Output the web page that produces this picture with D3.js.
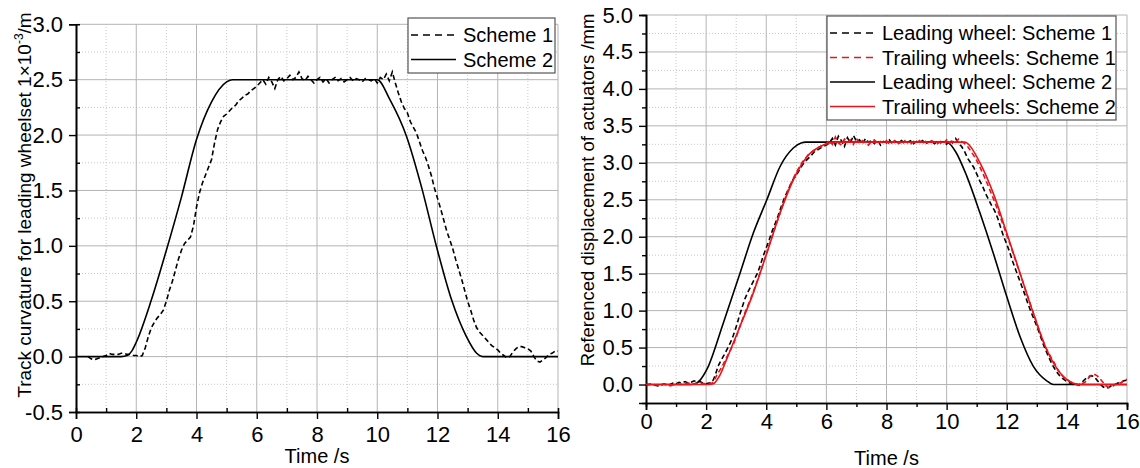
<!DOCTYPE html>
<html>
<head>
<meta charset="utf-8">
<script src="https://cdn.jsdelivr.net/npm/d3@7"></script>
<style>
  body { margin: 0; background: #fff; }
  text { font-family: "Liberation Sans", Arial, sans-serif; fill: #000; }
</style>
</head>
<body>
<svg id="chart" width="1140" height="468"></svg>
<script>
// ---- data ([time s, value]) ----
const xTicks = [0, 2, 4, 6, 8, 10, 12, 14, 16];
const xMinor = [1, 3, 5, 7, 9, 11, 13, 15];
const leftYTicks = [-0.5, 0, 0.5, 1.0, 1.5, 2.0, 2.5, 3.0];
const leftYMinor = [-0.25, 0.25, 0.75, 1.25, 1.75, 2.25, 2.75];
const rightYTicks = [0, 0.5, 1.0, 1.5, 2.0, 2.5, 3.0, 3.5, 4.0, 4.5, 5.0];
const rightYMinor = [0.25, 0.75, 1.25, 1.75, 2.25, 2.75, 3.25, 3.75, 4.25, 4.75];

// left: track curvature, scheme 2 (smooth)
const curvScheme2 = [[0,0],[1.5,0],[1.7,0.01],[1.85,0.05],[2.0,0.13],[2.5,0.51],[3.0,0.96],[3.5,1.44],[4.0,1.96],
  [4.5,2.30],[5.0,2.48],[5.2,2.5],[10.0,2.5],[10.42,2.32],[10.97,1.99],[11.47,1.53],[11.97,0.99],[12.47,0.51],
  [12.96,0.18],[13.3,0.03],[13.5,0],[16,0]];

// left: track curvature, scheme 1 (measured, noisy)
const curvScheme1 = [[0.4,0],[0.5,-0.02],[0.6,-0.03],[0.7,-0.02],[0.8,-0.01],[0.9,0],[1.0,0.01],[1.1,0.03],[1.2,0.02],
  [1.3,0.02],[1.4,0.02],[1.5,0.03],[1.6,0.03],[1.7,0.02],[1.8,0.02],[1.9,0.01],[2.0,0.01],[2.1,0],[2.2,0.01],
  [2.3,0.08],[2.4,0.18],[2.5,0.26],[2.6,0.31],[2.7,0.35],[2.8,0.38],[2.9,0.42],[3.0,0.5],[3.1,0.6],[3.2,0.68],
  [3.3,0.78],[3.4,0.88],[3.5,0.96],[3.6,1.02],[3.7,1.05],[3.8,1.08],[3.9,1.18],[4.0,1.35],[4.1,1.48],[4.2,1.57],
  [4.3,1.64],[4.4,1.71],[4.5,1.78],[4.6,1.93],[4.7,2.05],[4.8,2.12],[4.9,2.17],[5.0,2.19],[5.1,2.22],[5.2,2.25],
  [5.3,2.27],[5.4,2.31],[5.5,2.33],[5.6,2.36],[5.7,2.37],[5.8,2.40],[5.9,2.42],[6.0,2.44],[6.1,2.47],[6.2,2.50],
  [6.3,2.46],[6.4,2.52],[6.5,2.48],[6.6,2.42],[6.7,2.50],[6.8,2.53],[6.9,2.49],[7.0,2.51],[7.1,2.54],[7.2,2.50],
  [7.3,2.52],[7.4,2.57],[7.5,2.51],[7.6,2.49],[7.7,2.53],[7.8,2.50],[7.9,2.47],[8.0,2.50],[8.1,2.52],[8.2,2.48],
  [8.3,2.51],[8.4,2.47],[8.5,2.50],[8.6,2.52],[8.7,2.49],[8.8,2.51],[8.9,2.48],[9.0,2.50],[9.1,2.52],[9.2,2.49],
  [9.3,2.51],[9.4,2.50],[9.5,2.48],[9.6,2.51],[9.7,2.50],[9.8,2.49],[9.9,2.51],[10.0,2.47],[10.1,2.52],[10.2,2.50],
  [10.3,2.55],[10.4,2.49],[10.5,2.57],[10.6,2.47],[10.7,2.38],[10.8,2.30],[10.9,2.24],[11.0,2.20],[11.1,2.12],
  [11.2,2.07],[11.3,2.02],[11.4,1.94],[11.5,1.86],[11.6,1.80],[11.7,1.72],[11.8,1.63],[11.9,1.52],[12.0,1.43],
  [12.1,1.34],[12.2,1.24],[12.3,1.14],[12.4,1.06],[12.5,0.98],[12.6,0.88],[12.7,0.79],[12.8,0.70],[12.9,0.60],
  [13.0,0.50],[13.1,0.42],[13.2,0.33],[13.3,0.26],[13.4,0.22],[13.5,0.19],[13.6,0.16],[13.7,0.13],[13.8,0.10],
  [13.9,0.08],[14.0,0.06],[14.1,0.03],[14.2,0.01],[14.3,-0.01],[14.4,0],[14.5,0.04],[14.6,0.07],[14.7,0.09],
  [14.8,0.09],[14.9,0.08],[15.0,0.07],[15.1,0.05],[15.2,0],[15.3,-0.04],[15.4,-0.05],[15.5,-0.03],[15.6,-0.01],
  [15.7,0.02],[15.8,0.03],[15.9,0.05],[16.0,0.05]];

// right: actuator displacement, scheme 2 (smooth)
const leadScheme2 = [[0,0],[1.5,0],[1.63,0.01],[1.8,0.06],[2.02,0.2],[2.57,0.83],[3.13,1.51],[3.57,2.05],[4.02,2.5],
  [4.46,2.95],[4.9,3.2],[5.18,3.27],[5.3,3.28],[10.0,3.28],[10.06,3.27],[10.3,3.15],[10.67,2.82],[11.11,2.32],
  [11.55,1.78],[12.0,1.19],[12.44,0.65],[12.88,0.25],[13.33,0.05],[13.55,0],[16,0]];
const trailScheme2 = [[0,0],[2.1,0],[2.24,0.01],[2.45,0.12],[2.68,0.34],[3.13,0.79],[3.57,1.24],[4.02,1.78],
  [4.46,2.32],[4.9,2.77],[5.35,3.08],[5.9,3.24],[6.3,3.28],[10.6,3.28],[10.67,3.27],[11.11,3.0],[11.55,2.59],
  [12.0,2.05],[12.44,1.51],[12.88,0.97],[13.33,0.47],[13.77,0.16],[14.2,0.02],[14.4,0],[16,0]];

// right: actuator displacement, scheme 1 (measured, noisy)
const leadScheme1 = [[0,0],[0.1,0],[0.2,0.01],[0.3,-0.01],[0.4,-0.02],[0.5,-0.01],[0.6,0.01],[0.7,-0.01],[0.8,0],
  [0.9,0.02],[1.0,0.01],[1.1,0.03],[1.2,0.02],[1.3,0.04],[1.4,0.02],[1.5,0.03],[1.6,0.05],[1.7,0.03],[1.8,0.04],
  [1.9,0.02],[2.0,0.01],[2.1,0.02],[2.2,0.03],[2.3,0.12],[2.4,0.25],[2.5,0.33],[2.6,0.40],[2.7,0.48],[2.8,0.56],
  [2.9,0.66],[3.0,0.78],[3.1,0.92],[3.2,1.05],[3.3,1.17],[3.4,1.26],[3.5,1.34],[3.6,1.42],[3.7,1.50],[3.8,1.61],
  [3.9,1.74],[4.0,1.85],[4.1,1.96],[4.2,2.08],[4.3,2.18],[4.4,2.29],[4.5,2.41],[4.6,2.52],[4.7,2.61],[4.8,2.70],
  [4.9,2.78],[5.0,2.83],[5.1,2.90],[5.2,2.97],[5.3,3.02],[5.4,3.06],[5.5,3.10],[5.6,3.15],[5.7,3.17],[5.8,3.20],
  [5.9,3.22],[6.0,3.24],[6.1,3.27],[6.2,3.33],[6.3,3.24],[6.4,3.36],[6.5,3.30],[6.6,3.22],[6.7,3.34],[6.8,3.27],
  [6.9,3.37],[7.0,3.29],[7.1,3.31],[7.2,3.25],[7.3,3.33],[7.4,3.28],[7.5,3.30],[7.6,3.26],[7.7,3.31],[7.8,3.24],
  [7.9,3.29],[8.0,3.27],[8.1,3.31],[8.2,3.25],[8.3,3.29],[8.4,3.27],[8.5,3.30],[8.6,3.26],[8.7,3.28],[8.8,3.30],
  [8.9,3.26],[9.0,3.29],[9.1,3.27],[9.2,3.30],[9.3,3.26],[9.4,3.28],[9.5,3.29],[9.6,3.26],[9.7,3.30],[9.8,3.27],
  [9.9,3.29],[10.0,3.25],[10.1,3.31],[10.2,3.27],[10.3,3.33],[10.4,3.26],[10.5,3.22],[10.6,3.15],[10.7,3.06],
  [10.8,3.0],[10.9,2.94],[11.0,2.85],[11.1,2.76],[11.2,2.68],[11.3,2.58],[11.4,2.50],[11.5,2.42],[11.6,2.35],
  [11.7,2.25],[11.8,2.12],[11.9,2.00],[12.0,1.90],[12.1,1.79],[12.2,1.66],[12.3,1.55],[12.4,1.44],[12.5,1.33],
  [12.6,1.22],[12.7,1.10],[12.8,0.99],[12.9,0.89],[13.0,0.79],[13.1,0.68],[13.2,0.56],[13.3,0.46],[13.4,0.37],
  [13.5,0.28],[13.6,0.21],[13.7,0.15],[13.8,0.10],[13.9,0.07],[14.0,0.04],[14.1,0.02],[14.2,0],[14.3,0.01],
  [14.4,-0.01],[14.5,0.03],[14.6,0.07],[14.7,0.10],[14.8,0.12],[14.9,0.11],[15.0,0.06],[15.1,0.01],[15.2,-0.03],
  [15.3,-0.05],[15.4,-0.04],[15.5,-0.01],[15.6,0],[15.7,0.02],[15.8,0.03],[15.9,0.05],[16.0,0.06]];
const trailScheme1 = [[0,0],[0.2,0],[0.4,-0.01],[0.6,0.01],[0.8,-0.02],[1.0,0.01],[1.2,0],[1.4,0.02],[1.6,0.01],
  [1.8,0.02],[2.0,0.01],[2.2,0.02],[2.3,0.08],[2.4,0.16],[2.5,0.22],[2.6,0.30],[2.7,0.38],[2.8,0.46],[2.9,0.54],
  [3.0,0.64],[3.1,0.76],[3.2,0.87],[3.3,0.98],[3.4,1.08],[3.5,1.18],[3.6,1.29],[3.7,1.40],[3.8,1.52],[3.9,1.64],
  [4.0,1.76],[4.1,1.89],[4.2,2.01],[4.3,2.13],[4.4,2.25],[4.5,2.37],[4.6,2.49],[4.7,2.60],[4.8,2.70],[4.9,2.79],
  [5.0,2.87],[5.1,2.94],[5.2,3.01],[5.3,3.06],[5.4,3.11],[5.5,3.14],[5.6,3.17],[5.7,3.20],[5.8,3.22],[5.9,3.24],
  [6.0,3.26],[6.1,3.30],[6.2,3.25],[6.3,3.35],[6.4,3.27],[6.5,3.24],[6.6,3.32],[6.7,3.28],[6.8,3.31],[6.9,3.25],
  [7.0,3.33],[7.1,3.26],[7.2,3.30],[7.3,3.27],[7.4,3.24],[7.5,3.29],[7.6,3.31],[7.7,3.26],[7.8,3.29],[7.9,3.27],
  [8.0,3.30],[8.1,3.25],[8.2,3.28],[8.3,3.31],[8.4,3.26],[8.5,3.28],[8.6,3.30],[8.7,3.27],[8.8,3.25],[8.9,3.29],
  [9.0,3.27],[9.1,3.30],[9.2,3.26],[9.3,3.29],[9.4,3.27],[9.5,3.30],[9.6,3.28],[9.7,3.26],[9.8,3.29],[9.9,3.27],
  [10.0,3.31],[10.1,3.26],[10.2,3.30],[10.3,3.28],[10.4,3.32],[10.5,3.29],[10.6,3.26],[10.7,3.22],[10.8,3.16],
  [10.9,3.10],[11.0,3.03],[11.1,2.95],[11.2,2.86],[11.3,2.77],[11.4,2.67],[11.5,2.57],[11.6,2.47],[11.7,2.36],
  [11.8,2.25],[11.9,2.14],[12.0,2.02],[12.1,1.91],[12.2,1.79],[12.3,1.67],[12.4,1.55],[12.5,1.43],[12.6,1.31],
  [12.7,1.19],[12.8,1.07],[12.9,0.95],[13.0,0.83],[13.1,0.71],[13.2,0.60],[13.3,0.50],[13.4,0.42],[13.5,0.35],
  [13.6,0.28],[13.7,0.20],[13.8,0.14],[13.9,0.10],[14.0,0.07],[14.1,0.04],[14.2,0.02],[14.3,0],[14.4,-0.01],
  [14.5,0.01],[14.6,0.03],[14.7,0.08],[14.8,0.12],[14.9,0.14],[15.0,0.12],[15.1,0.08],[15.2,0.03],[15.3,-0.02],
  [15.4,-0.04],[15.5,-0.03],[15.6,0],[15.7,0.03],[15.8,0.02],[15.9,0.06],[16.0,0.07]];

const RED = "#e8141c";
const svg = d3.select("#chart");

// one panel: grid, axes, labels
function drawPanel(opt) {
  const x = d3.scaleLinear().domain([0, 16]).range([opt.left, opt.right]);
  const y = d3.scaleLinear().domain(opt.yDomain).range([opt.bottom, opt.top]);
  const g = svg.append("g");

  // minor grid (dotted)
  g.selectAll(".vmin").data(xMinor).enter().append("line")
    .attr("x1", d => x(d)).attr("x2", d => x(d)).attr("y1", opt.bottom).attr("y2", opt.top)
    .attr("stroke", "#c8c8c8").attr("stroke-dasharray", "1,2");
  g.selectAll(".hmin").data(opt.yMinor).enter().append("line")
    .attr("x1", opt.left).attr("x2", opt.right).attr("y1", d => y(d)).attr("y2", d => y(d))
    .attr("stroke", "#c8c8c8").attr("stroke-dasharray", "1,2");
  // major grid
  g.selectAll(".vmaj").data(xTicks.slice(1)).enter().append("line")
    .attr("x1", d => x(d)).attr("x2", d => x(d)).attr("y1", opt.bottom).attr("y2", opt.top)
    .attr("stroke", "#b4b4b4");
  g.selectAll(".hmaj").data(opt.yTicks.filter(d => y(d) < opt.bottom - 1)).enter().append("line")
    .attr("x1", opt.left).attr("x2", opt.right).attr("y1", d => y(d)).attr("y2", d => y(d))
    .attr("stroke", "#b4b4b4");

  // axes
  const xa = g.append("g").attr("transform", "translate(0," + opt.bottom + ")");
  xa.call(d3.axisBottom(x).tickValues(xTicks).tickSize(7).tickPadding(opt.xPad).tickFormat(d3.format("d")));
  xa.append("g").call(d3.axisBottom(x).tickValues(xMinor).tickSize(opt.minorIn ? -4 : 4).tickFormat(""));
  const ya = g.append("g").attr("transform", "translate(" + opt.left + ",0)");
  // plain hyphen for negatives, like the original
  ya.call(d3.axisLeft(y).tickValues(opt.yTicks).tickSize(7).tickPadding(6).tickFormat(d => d.toFixed(1)));
  ya.append("g").call(d3.axisLeft(y).tickValues(opt.yMinor).tickSize(opt.minorIn ? -4 : 4).tickFormat(""));
  g.selectAll(".domain").attr("stroke", "#000").attr("stroke-width", 1.6);
  g.selectAll(".tick line").attr("stroke", "#000").attr("stroke-width", 1.4);
  g.selectAll(".tick text").style("font-size", "22px").style("font-family", "Liberation Sans, Arial, sans-serif")
    .attr("fill", "#000");

  g.append("text").attr("x", (opt.left + opt.right) / 2).attr("y", opt.titleY)
    .attr("text-anchor", "middle").style("font-size", "20px").text("Time /s");
  return { x, y };
}

function drawLines(sc, series) {
  series.forEach(s => {
    const line = d3.line().x(d => sc.x(d[0])).y(d => sc.y(d[1]))
      .curve(s.smooth ? d3.curveMonotoneX : d3.curveLinear);
    svg.append("path").datum(s.data).attr("d", line)
      .attr("fill", "none").attr("stroke", s.color).attr("stroke-width", 1.6)
      .attr("stroke-dasharray", s.dash ? "5,3" : null);
  });
}

function drawLegend(box, items) {
  const g = svg.append("g");
  g.append("rect").attr("x", box.x).attr("y", box.y).attr("width", box.w).attr("height", box.h)
    .attr("fill", "#fff").attr("stroke", "#555").attr("stroke-width", 1.2);
  items.forEach((it, i) => {
    const cy = box.y + 17 + i * 24.5;
    g.append("line").attr("x1", box.x + 3).attr("x2", box.x + 48).attr("y1", cy).attr("y2", cy)
      .attr("stroke", it.color).attr("stroke-width", 1.6).attr("stroke-dasharray", it.dash ? "7,5" : null);
    g.append("text").attr("x", box.x + 55).attr("y", cy + 7).style("font-size", "20px").text(it.label);
  });
}

// ---- left panel ----
const L = drawPanel({ left: 76, right: 558, top: 24.3, bottom: 412, yDomain: [-0.5, 3.0],
  yTicks: leftYTicks, yMinor: leftYMinor, minorIn: true, xPad: 7, titleY: 463 });
drawLines(L, [
  { data: curvScheme1, color: "#000", dash: true },
  { data: curvScheme2, color: "#000", smooth: true }
]);
svg.append("text").attr("transform", "translate(31,205) rotate(-90)")
  .attr("text-anchor", "middle").style("font-size", "19px")
  .text("Track curvature for leading wheelset 1\u00d710")
  .append("tspan").attr("dy", -8).style("font-size", "12px").text("-3")
  .select(function () { return this.parentNode; })
  .append("tspan").attr("dy", 8).text("/m");
drawLegend({ x: 408, y: 18, w: 147, h: 55 }, [
  { label: "Scheme 1", color: "#000", dash: true },
  { label: "Scheme 2", color: "#000" }
]);

// ---- right panel ----
const R = drawPanel({ left: 646, right: 1127, top: 15, bottom: 403, yDomain: [-0.25, 5.0],
  yTicks: rightYTicks, yMinor: rightYMinor, minorIn: false, xPad: 3, titleY: 465 });
drawLines(R, [
  { data: leadScheme2, color: "#000", smooth: true },
  { data: leadScheme1, color: "#000", dash: true },
  { data: trailScheme1, color: RED, dash: true },
  { data: trailScheme2, color: RED, smooth: true }
]);
svg.append("text").attr("transform", "translate(594,190) rotate(-90)")
  .attr("text-anchor", "middle").style("font-size", "18.5px")
  .text("Referenced displacement of actuators /mm");
drawLegend({ x: 827, y: 16, w: 289, h: 104 }, [
  { label: "Leading wheel: Scheme 1", color: "#000", dash: true },
  { label: "Trailing wheels: Scheme 1", color: RED, dash: true },
  { label: "Leading wheel: Scheme 2", color: "#000" },
  { label: "Trailing wheels: Scheme 2", color: RED }
]);
</script>
</body>
</html>
